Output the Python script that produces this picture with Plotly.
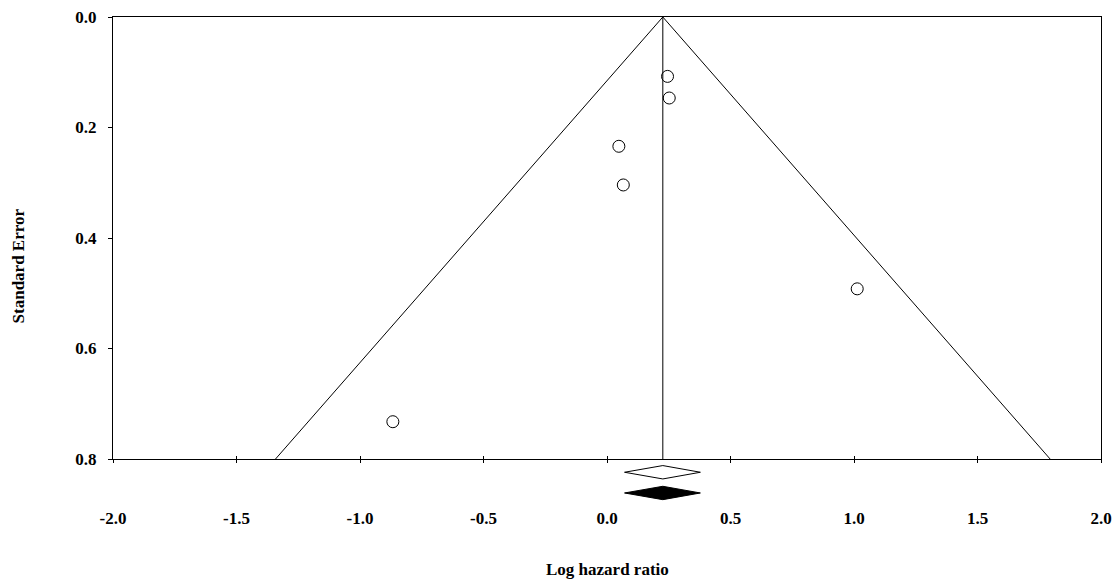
import plotly.graph_objects as go

# Study data
log_hr = [0.245, 0.252, 0.048, 0.066, 1.013, -0.867]
std_err = [0.1075, 0.1466, 0.234, 0.304, 0.492, 0.7325]

# Pooled estimate and confidence interval (diamonds)
pooled = 0.226
ci_low = 0.071
ci_high = 0.378
diamond_se = [0.824, 0.8615]  # vertical positions in SE units (below axis)
diamond_half = 0.0121
diamond_fill = ["white", "black"]

x_ticks = [-2.0, -1.5, -1.0, -0.5, 0.0, 0.5, 1.0, 1.5, 2.0]
y_ticks = [0.0, 0.2, 0.4, 0.6, 0.8]
x_range = [-2.0, 2.0]
y_range = [0.8, 0.0]
se_max = 0.8

FONT = "Liberation Serif"

fig = go.Figure()

# Funnel lines
fig.add_trace(go.Scatter(
    x=[pooled - 1.96 * se_max, pooled, pooled + 1.96 * se_max],
    y=[se_max, 0.0, se_max],
    mode="lines", line=dict(color="black", width=1),
    hoverinfo="skip", showlegend=False))
# Centre line
fig.add_trace(go.Scatter(
    x=[pooled, pooled], y=[0.0, se_max],
    mode="lines", line=dict(color="black", width=1),
    hoverinfo="skip", showlegend=False))
# Studies
fig.add_trace(go.Scatter(
    x=log_hr, y=std_err, mode="markers",
    marker=dict(symbol="circle-open", size=12, color="black", line=dict(width=1)),
    showlegend=False))


def se_to_paper(v):
    return (y_range[0] - v) / (y_range[0] - y_range[1])


for yv, fc in zip(diamond_se, diamond_fill):
    top = se_to_paper(yv - diamond_half)
    mid = se_to_paper(yv)
    bot = se_to_paper(yv + diamond_half)
    fig.add_shape(
        type="path", xref="x", yref="paper",
        path=f"M {ci_low},{mid} L {pooled},{top} L {ci_high},{mid} L {pooled},{bot} Z",
        line=dict(color="black", width=1), fillcolor=fc)

tickfont = dict(family=FONT, size=17, color="black", weight="bold")

fig.update_layout(
    width=1119, height=579,
    margin=dict(l=113, r=18, t=17, b=120),
    plot_bgcolor="white", paper_bgcolor="white",
    font=dict(family=FONT, color="black"),
    xaxis=dict(
        range=x_range, tickvals=x_ticks, automargin=False,
        ticktext=[f"{v:.1f}" for v in x_ticks],
        ticks="outside", ticklen=3, tickcolor="black", tickwidth=1,
        showline=True, linecolor="black", linewidth=1, mirror=True,
        showgrid=False, zeroline=False,
        tickfont=tickfont, ticklabelstandoff=41),
    xaxis2=dict(
        overlaying="x", matches="x", range=x_range, tickvals=x_ticks,
        ticks="inside", ticklen=3, tickcolor="black", tickwidth=1,
        showticklabels=False, showgrid=False, zeroline=False, automargin=False,
        showline=False, side="bottom", anchor="y"),
    yaxis=dict(
        range=y_range, tickvals=y_ticks, automargin=False,
        ticktext=[f"{v:.1f}" for v in y_ticks],
        ticks="outside", ticklen=4, tickcolor="black", tickwidth=1,
        showline=True, linecolor="black", linewidth=1, mirror=True,
        showgrid=False, zeroline=False,
        tickfont=tickfont, ticklabelstandoff=8),
    annotations=[
        dict(text="Log hazard ratio", xref="paper", yref="paper",
             x=0.5, y=-0.25, yanchor="middle", xanchor="center",
             showarrow=False,
             font=dict(family=FONT, size=17, color="black", weight="bold")),
        dict(text="Standard Error", xref="paper", yref="paper",
             x=-0.096, y=0.436, textangle=-90, xanchor="center", yanchor="middle",
             showarrow=False,
             font=dict(family=FONT, size=17, color="black", weight="bold")),
    ],
)

# dummy trace on xaxis2 to make it render
fig.add_trace(go.Scatter(x=[None], y=[None], xaxis="x2", showlegend=False, hoverinfo="skip"))

fig.write_html("out.html")
